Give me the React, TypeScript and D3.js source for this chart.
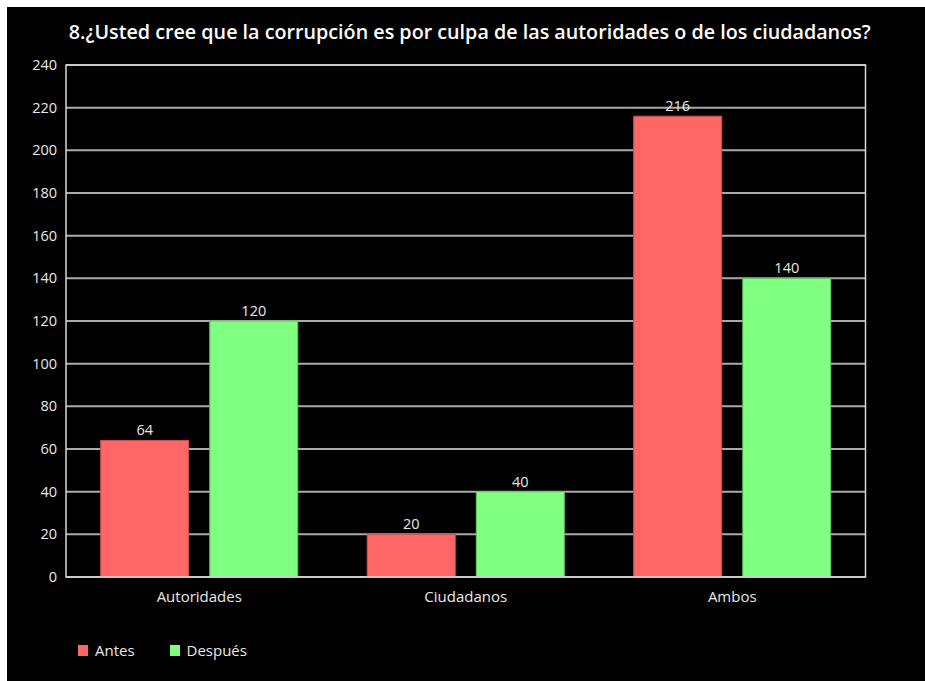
import React from "react";
import * as d3 from "d3";

const title = "8.¿Usted cree que la corrupción es por culpa de las autoridades o de los ciudadanos?";
const categories = ["Autoridades", "Ciudadanos", "Ambos"];
const seriesNames = ["Antes", "Después"];
const antes = [64, 20, 216];
const despues = [120, 40, 140];
const yTicks = [0, 20, 40, 60, 80, 100, 120, 140, 160, 180, 200, 220, 240];
const colors = ["#ff6666", "#80ff80"];
const strokes = ["#c85050", "#60c060"];

export default function App() {
  const W = 925, H = 681;
  const left = 66, right = 865.5, top = 65, bottom = 577;
  const series = [antes, despues];
  const x0 = d3.scaleBand<string>().domain(categories).range([left, right]).padding(0);
  const bw0 = x0.bandwidth();
  const outer = 34.7;
  const x1 = d3.scaleBand<string>().domain(seriesNames).range([outer, bw0 - outer]).paddingInner(0.193).paddingOuter(0);
  const y = d3.scaleLinear().domain([0, 240]).range([bottom, top]);
  const font = "'Open Sans', 'Noto Sans', sans-serif";
  const textCol = "#e8e8e8";
  return (
    <svg width={W} height={H} style={{ position: "absolute", left: 0, top: 0, display: "block" }} fontFamily={font}>
      <rect x={0} y={0} width={W} height={H} fill="#ffffff" />
      <rect x={7} y={7} width={W - 7} height={H - 7} fill="#000000" />
      <text x={(left + right) / 2 + 4} y={39} textAnchor="middle" fill="#ffffff" fontSize={20} fontWeight={600} textLength={802} lengthAdjust="spacingAndGlyphs">{title}</text>
      {yTicks.map((t) => (
        <g key={t}>
          <line x1={left} x2={right} y1={y(t)} y2={y(t)} stroke="#aaaaaa" strokeWidth={2} />
          <text x={57} y={y(t) + 5} textAnchor="end" fill={textCol} fontSize={14.5}>{t}</text>
        </g>
      ))}
      {categories.map((c, ci) => (
        <g key={c}>
          {seriesNames.map((s, si) => {
            const v = series[si][ci];
            const bx = (x0(c) as number) + (x1(s) as number);
            const bw = x1.bandwidth();
            return (
              <g key={s}>
                <rect x={bx} y={y(v)} width={bw} height={y(0) - y(v)} fill={colors[si]} stroke={strokes[si]} strokeWidth={1} />
                <text x={bx + bw / 2} y={y(v) - 5} textAnchor="middle" fill={textCol} fontSize={14.5}>{v}</text>
              </g>
            );
          })}
          <text x={(x0(c) as number) + bw0 / 2} y={602} textAnchor="middle" fill={textCol} fontSize={15}>{c}</text>
        </g>
      ))}
      <rect x={left} y={top} width={right - left} height={bottom - top} fill="none" stroke="#d8d8d8" strokeWidth={1.5} />
      {seriesNames.map((s, i) => (
        <g key={s}>
          <rect x={78 + i * 92} y={645} width={10} height={11} fill={colors[i]} />
          <text x={95 + i * 91.5} y={656} fill={textCol} fontSize={15}>{s}</text>
        </g>
      ))}
    </svg>
  );
}
